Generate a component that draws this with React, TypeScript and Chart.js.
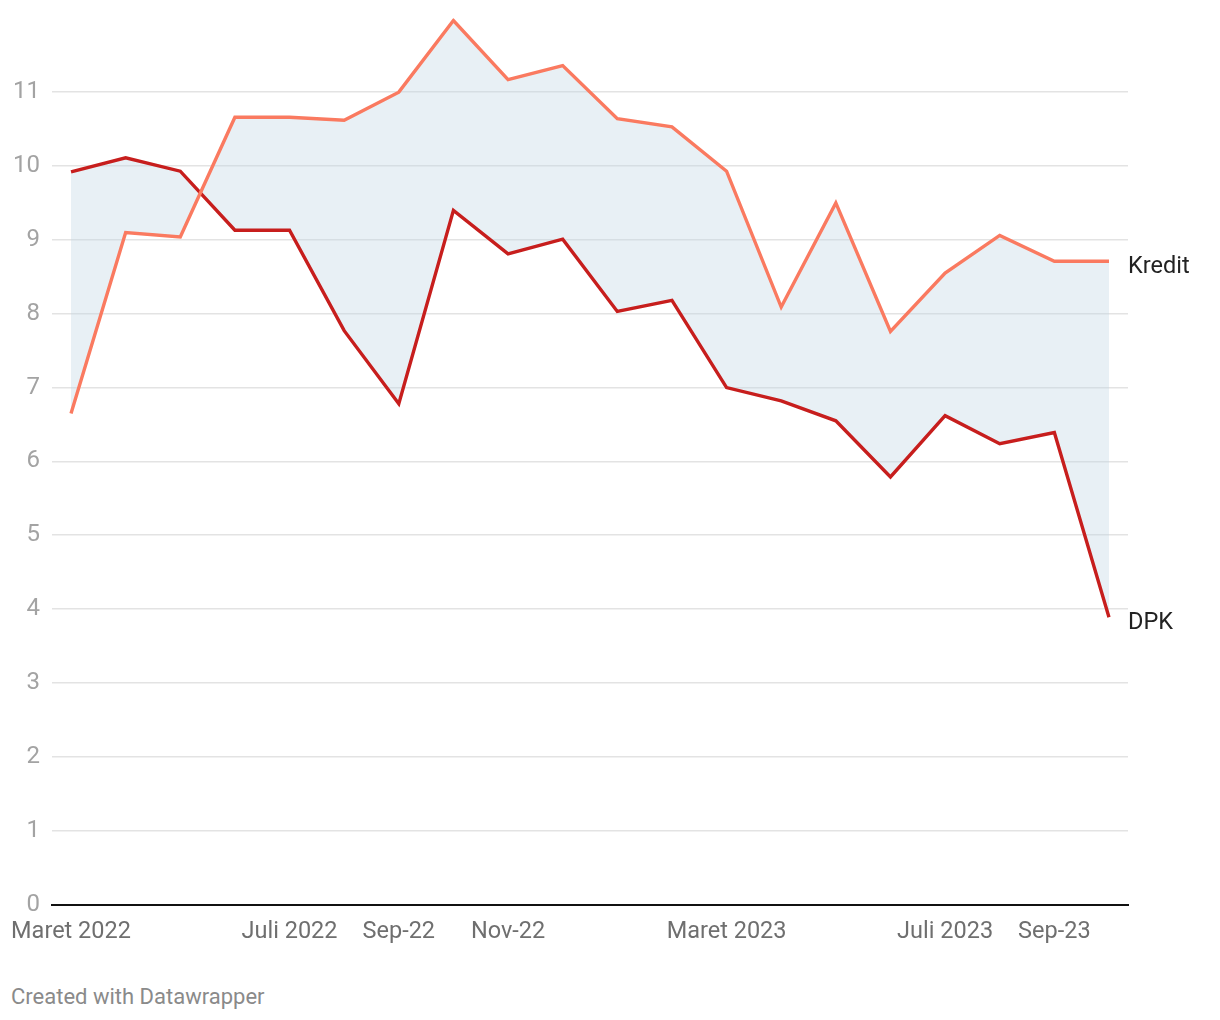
import React, { useEffect, useRef } from "react";
import { Chart, registerables } from "chart.js";

Chart.register(...registerables);

const categories = [
  "Maret 2022", "April 2022", "Mei 2022", "Juni 2022", "Juli 2022", "Agustus 2022",
  "Sep-22", "Okt-22", "Nov-22", "Des-22", "Jan-23", "Feb-23",
  "Maret 2023", "April 2023", "Mei 2023", "Juni 2023", "Juli 2023", "Agustus 2023",
  "Sep-23", "Okt-23",
];
const kredit = [6.65, 9.10, 9.04, 10.66, 10.66, 10.62, 11.0, 11.97, 11.17, 11.36, 10.64, 10.53, 9.93, 8.09, 9.50, 7.76, 8.55, 9.06, 8.71, 8.71];
const dpk = [9.92, 10.11, 9.93, 9.13, 9.13, 7.77, 6.78, 9.40, 8.81, 9.01, 8.03, 8.18, 7.00, 6.82, 6.55, 5.79, 6.62, 6.24, 6.39, 3.89];
const xTickIndex = [0, 4, 6, 8, 12, 16, 18];
const seriesNames = ["Kredit", "DPK"];

const FONT = "Roboto, 'Noto Sans', sans-serif";

const endLabels = {
  id: "endLabels",
  afterDatasetsDraw(chart: any) {
    const { ctx } = chart;
    ctx.save();
    ctx.font = `23.5px ${FONT}`;
    ctx.fillStyle = "#222222";
    ctx.textAlign = "left";
    ctx.textBaseline = "middle";
    chart.data.datasets.forEach((ds: any, i: number) => {
      const meta = chart.getDatasetMeta(i);
      const last = meta.data[meta.data.length - 1];
      if (!last) return;
      ctx.fillText(seriesNames[i], chart.chartArea.right, last.y + 5.5);
    });
    ctx.restore();
  },
};

export default function App() {
  const ref = useRef<HTMLCanvasElement | null>(null);
  useEffect(() => {
    if (!ref.current) return;
    const chart = new Chart(ref.current, {
      type: "line",
      data: {
        datasets: [
          {
            label: seriesNames[0],
            data: kredit.map((v, i) => ({ x: i, y: v })),
            borderColor: "#fa7a60",
            borderWidth: 3.4,
            pointRadius: 0,
            fill: false,
            tension: 0,
          },
          {
            label: seriesNames[1],
            data: dpk.map((v, i) => ({ x: i, y: v })),
            borderColor: "#c71e1d",
            borderWidth: 3.4,
            pointRadius: 0,
            fill: "-1",
            backgroundColor: "rgba(185,208,224,0.33)",
            tension: 0,
          },
        ],
      },
      options: {
        animation: false,
        responsive: false,
        maintainAspectRatio: false,
        layout: { padding: { left: 0, right: 92, top: 18.3, bottom: 15.5 } },
        plugins: { legend: { display: false }, tooltip: { enabled: false } },
        scales: {
          x: {
            type: "linear",
            min: -0.348,
            max: 19.348,
            afterBuildTicks: (scale: any) => {
              scale.ticks = xTickIndex.map((v) => ({ value: v }));
            },
            afterFit: (scale: any) => {
              scale.height = 40;
              scale.paddingLeft = 0;
              scale.paddingRight = 0;
            },
            grid: { display: false, drawTicks: false },
            border: { display: true, color: "#111111", width: 2 },
            ticks: {
              autoSkip: false,
              maxRotation: 0,
              padding: 13.5,
              color: "#6f6f6f",
              font: { family: FONT, size: 23.5 },
              callback: (v: any) => categories[Math.round(Number(v))] ?? "",
            },
          },
          y: {
            min: 0,
            max: 12,
            afterFit: (scale: any) => {
              scale.width = 52;
              scale.paddingTop = 0;
              scale.paddingBottom = 0;
            },
            grid: {
              drawTicks: false,
              lineWidth: 1.5,
              color: (c: any) =>
                c.tick && (c.tick.value === 12 || c.tick.value === 0)
                  ? "rgba(0,0,0,0)"
                  : "rgba(0,0,0,0.11)",
            },
            border: { display: false },
            ticks: {
              stepSize: 1,
              padding: 12,
              color: "#a3a3a3",
              font: { family: FONT, size: 24 },
              callback: (v: any) => (Number(v) === 12 ? "" : String(v)),
            },
          },
        },
      },
      plugins: [endLabels],
    });
    return () => chart.destroy();
  }, []);

  return (
    <div style={{ position: "absolute", left: 0, top: 0, width: 1220, height: 1020, background: "#fff" }}>
      <canvas ref={ref} width={1220} height={960} style={{ display: "block", width: 1220, height: 960 }} />
      <div
        style={{
          position: "absolute",
          left: 11,
          top: 983,
          fontFamily: FONT,
          fontSize: 22,
          color: "#8a8a8a",
          lineHeight: "28px",
        }}
      >
        Created with Datawrapper
      </div>
    </div>
  );
}
